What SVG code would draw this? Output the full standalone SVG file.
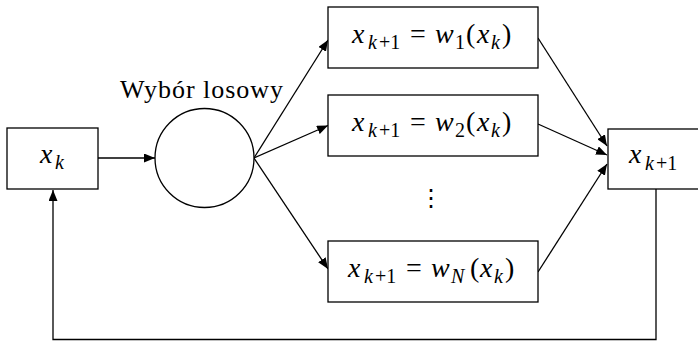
<svg xmlns="http://www.w3.org/2000/svg" width="698" height="341" viewBox="0 0 698 341">
<style>
.box{fill:#fff;stroke:#000;stroke-width:1.3}
.ln{fill:none;stroke:#000;stroke-width:1.3}
</style>
<defs>
<marker id="ah" markerUnits="userSpaceOnUse" markerWidth="12" markerHeight="9" refX="11" refY="4.5" orient="auto">
<path d="M0,0 L11,4.5 L0,9 z" fill="#000"/>
</marker>
</defs>
<rect width="698" height="341" fill="#fff"/>
<g id="connectors">
<line class="ln" x1="98" y1="158" x2="155" y2="158" marker-end="url(#ah)"/>
<line class="ln" x1="254" y1="158" x2="328" y2="40" marker-end="url(#ah)"/>
<line class="ln" x1="254" y1="158" x2="328" y2="125.5" marker-end="url(#ah)"/>
<line class="ln" x1="254" y1="158" x2="328" y2="269" marker-end="url(#ah)"/>
<line class="ln" x1="538" y1="38" x2="607" y2="146" marker-end="url(#ah)"/>
<line class="ln" x1="538" y1="124" x2="607" y2="155" marker-end="url(#ah)"/>
<line class="ln" x1="538" y1="272" x2="607" y2="164" marker-end="url(#ah)"/>
<polyline class="ln" points="656,189 656,339.5 53,339.5 53,190" marker-end="url(#ah)"/>
</g>
<g id="xk" font-family="Liberation Serif">
<rect class="box" x="7" y="128" width="91" height="61"/>
<text x="40" y="163" font-size="28" font-style="italic">x</text><text x="55" y="169" font-size="20" font-style="italic">k</text>
</g>
<g id="choice" font-family="Liberation Serif">
<circle class="box" cx="204.5" cy="158" r="49.5"/>
<text x="120" y="98" font-size="26" textLength="163" lengthAdjust="spacing">Wybór losowy</text>
</g>
<g id="w1" font-family="Liberation Serif">
<rect class="box" x="328" y="7" width="210" height="61"/>
<text y="43" font-size="28"><tspan x="352" font-style="italic">x</tspan><tspan x="368" y="49" font-size="20" font-style="italic">k</tspan><tspan x="379" y="49" font-size="20">+1</tspan><tspan x="410" y="43">=</tspan><tspan x="435" font-style="italic">w</tspan><tspan x="455" y="49" font-size="20">1</tspan><tspan x="466" y="43">(</tspan><tspan x="477" font-style="italic">x</tspan><tspan x="491" y="49" font-size="20" font-style="italic">k</tspan><tspan x="502" y="43">)</tspan></text>
</g>
<g id="w2" font-family="Liberation Serif">
<rect class="box" x="328" y="95" width="210" height="61"/>
<text y="131" font-size="28"><tspan x="352" font-style="italic">x</tspan><tspan x="368" y="137" font-size="20" font-style="italic">k</tspan><tspan x="379" y="137" font-size="20">+1</tspan><tspan x="410" y="131">=</tspan><tspan x="435" font-style="italic">w</tspan><tspan x="455" y="137" font-size="20">2</tspan><tspan x="466" y="131">(</tspan><tspan x="477" font-style="italic">x</tspan><tspan x="491" y="137" font-size="20" font-style="italic">k</tspan><tspan x="502" y="131">)</tspan></text>
</g>
<g id="vdots">
<text x="431" y="206" text-anchor="middle" font-family="Liberation Serif" font-size="24">⋮</text>
</g>
<g id="wN" font-family="Liberation Serif">
<rect class="box" x="328" y="241" width="210" height="61"/>
<text y="277" font-size="28"><tspan x="348" font-style="italic">x</tspan><tspan x="364" y="283" font-size="20" font-style="italic">k</tspan><tspan x="375" y="283" font-size="20">+1</tspan><tspan x="406" y="277">=</tspan><tspan x="431" font-style="italic">w</tspan><tspan x="451" y="283" font-size="20" font-style="italic">N</tspan><tspan x="470" y="277">(</tspan><tspan x="480" font-style="italic">x</tspan><tspan x="494" y="283" font-size="20" font-style="italic">k</tspan><tspan x="505" y="277">)</tspan></text>
</g>
<g id="xk1" font-family="Liberation Serif">
<rect class="box" x="608" y="129" width="100" height="60"/>
<text y="163" font-size="28"><tspan x="629" font-style="italic">x</tspan><tspan x="645" y="170" font-size="20" font-style="italic">k</tspan><tspan x="656" y="170" font-size="20">+1</tspan></text>
</g>
</svg>
